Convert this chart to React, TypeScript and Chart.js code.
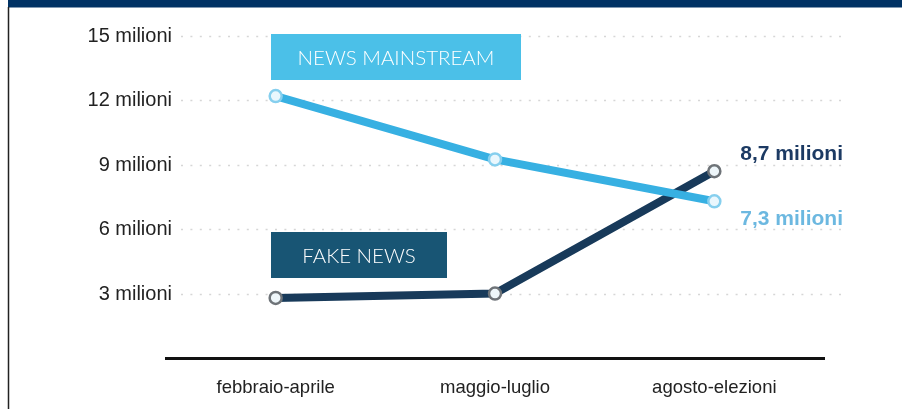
import React, { useEffect, useRef } from "react";
import { Chart, registerables } from "chart.js";

Chart.register(...registerables);

const categories = ["febbraio-aprile", "maggio-luglio", "agosto-elezioni"];
const mainstreamValues = [12.2, 9.25, 7.3];
const fakeValues = [2.8, 3.0, 8.7];
const seriesNames = ["NEWS MAINSTREAM", "FAKE NEWS"];
const yMin = 0;
const yMax = 15;
const yStep = 3;
const unitLabel = "milioni";

const MAIN_LINE = "#37b0e2";
const FAKE_LINE = "#183a5a";
const FONT = "'Liberation Sans', Arial, sans-serif";

const fmt = (v: number) => String(v).replace(".", ",") + " " + unitLabel;

const decorPlugin = {
  id: "decor",
  beforeDatasetsDraw(chart: any) {
    const { ctx, scales } = chart;
    const y = scales.y;
    ctx.save();
    // top band
    ctx.fillStyle = "#003264";
    ctx.fillRect(8, 0, chart.width - 8, 7.5);
    // left border
    ctx.strokeStyle = "#222";
    ctx.lineWidth = 1.5;
    ctx.beginPath();
    ctx.moveTo(8.5, 7);
    ctx.lineTo(8.5, chart.height);
    ctx.stroke();
    // dotted grid lines + y tick labels
    y.ticks.forEach((t: any) => {
      if (t.value === yMin) return;
      const py = Math.round(y.getPixelForValue(t.value)) + 0.5;
      ctx.save();
      ctx.strokeStyle = "#d6d6d6";
      ctx.lineWidth = 1.6;
      ctx.setLineDash([2, 7.4]);
      ctx.beginPath();
      ctx.moveTo(181, py);
      ctx.lineTo(847, py);
      ctx.stroke();
      ctx.restore();
      ctx.fillStyle = "#222";
      ctx.font = "20px " + FONT;
      ctx.textAlign = "right";
      ctx.textBaseline = "middle";
      ctx.fillText(t.value + " " + unitLabel, chart.chartArea.left + 6, py);
    });
    ctx.restore();
  },
  afterDatasetsDraw(chart: any) {
    const { ctx } = chart;
    ctx.save();
    // series name boxes
    const boxes = [
      { text: seriesNames[0], x: 271, y: 34, w: 250, h: 46, color: "#4bc0e8" },
      { text: seriesNames[1], x: 271, y: 232, w: 176, h: 46, color: "#185574" },
    ];
    boxes.forEach((b) => {
      ctx.fillStyle = b.color;
      ctx.fillRect(b.x, b.y, b.w, b.h);
      ctx.fillStyle = "#ffffff";
      ctx.font = "300 20.5px Lato";
      ctx.textAlign = "center";
      ctx.textBaseline = "middle";
      ctx.fillText(b.text, b.x + b.w / 2, b.y + b.h / 2 + 1);
    });
    // end value labels
    const endColors = ["#6cb8e0", "#1c3a63"];
    chart.data.datasets.forEach((ds: any, i: number) => {
      const meta = chart.getDatasetMeta(i);
      const last = meta.data[meta.data.length - 1];
      const v = ds.data[ds.data.length - 1];
      const other = chart.data.datasets[1 - i].data;
      const above = v > other[other.length - 1];
      ctx.fillStyle = endColors[i];
      ctx.font = "bold 21px " + FONT;
      ctx.textAlign = "left";
      ctx.textBaseline = "middle";
      ctx.fillText(fmt(v), last.x + 26, last.y + (above ? -17 : 18));
    });
    ctx.restore();
  },
};

export default function App() {
  const ref = useRef<HTMLCanvasElement | null>(null);
  useEffect(() => {
    document.body.style.margin = "0";
    const canvas = ref.current;
    if (!canvas) return;
    const chart = new Chart(canvas, {
      type: "line",
      data: {
        labels: categories,
        datasets: [
          {
            label: seriesNames[0],
            data: mainstreamValues,
            borderColor: MAIN_LINE,
            borderWidth: 8,
            pointRadius: 6,
            pointBorderWidth: 2.5,
            pointBackgroundColor: "#eaf7fd",
            pointBorderColor: "#86cfee",
            tension: 0,
          },
          {
            label: seriesNames[1],
            data: fakeValues,
            borderColor: FAKE_LINE,
            borderWidth: 8,
            pointRadius: 6,
            pointBorderWidth: 2.5,
            pointBackgroundColor: "#eef6fa",
            pointBorderColor: "#6e7378",
            tension: 0,
          },
        ],
      },
      options: {
        animation: false,
        responsive: false,
        devicePixelRatio: 1,
        layout: { padding: { left: 66, right: 78, top: 36, bottom: 0 } },
        plugins: { legend: { display: false }, tooltip: { enabled: false } },
        scales: {
          x: {
            offset: true,
            grid: { display: false, drawTicks: false },
            border: { display: true, color: "#111", width: 3 },
            ticks: {
              padding: 19,
              color: "#222",
              font: { size: 18.5, family: FONT },
            },
            afterFit: (s: any) => {
              s.height = 51;
            },
          },
          y: {
            min: yMin,
            max: yMax,
            grid: { display: false, drawTicks: false },
            border: { display: false },
            ticks: {
              stepSize: yStep,
              display: false,
            },
            afterFit: (s: any) => {
              s.width = 100;
            },
          },
        },
      },
      plugins: [decorPlugin],
    });
    return () => chart.destroy();
  }, []);
  return (
    <div style={{ width: 902, height: 409, position: "relative" }}>
      <canvas ref={ref} width={902} height={409} style={{ display: "block" }} />
    </div>
  );
}
